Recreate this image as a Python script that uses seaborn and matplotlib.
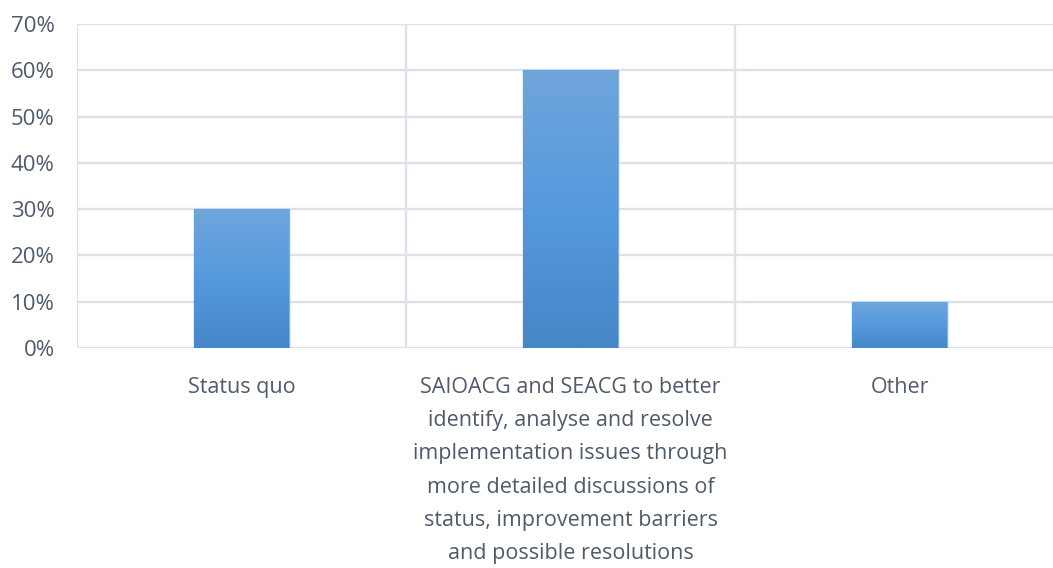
import matplotlib
matplotlib.use("Agg")
import matplotlib.pyplot as plt
import matplotlib.font_manager as fm
from matplotlib.colors import LinearSegmentedColormap
from matplotlib.ticker import FuncFormatter
import numpy as np
import pandas as pd
import seaborn as sns

categories = [
    "Status quo",
    "SAIOACG and SEACG to better\nidentify, analyse and resolve\nimplementation issues through\nmore detailed discussions of\nstatus, improvement barriers\nand possible resolutions",
    "Other",
]
values = [0.30, 0.60, 0.10]
yticks = [0.0, 0.1, 0.2, 0.3, 0.4, 0.5, 0.6, 0.7]

sns.set_theme(style="white")
avail = {f.name for f in fm.fontManager.ttflist}
fams = [f for f in ["Liberation Sans Narrow", "Open Sans", "DejaVu Sans"] if f in avail]
plt.rcParams["font.family"] = fams

text_color = "#4f5a6b"
grid_color = "#dce1ea"

fig = plt.figure(figsize=(10.53, 5.68), dpi=100)
ax = fig.add_axes([77 / 1053, 1 - 348 / 568, (1064 - 77) / 1053, (348 - 24) / 568])

df = pd.DataFrame({"cat": categories, "val": values})
sns.barplot(data=df, x="cat", y="val", ax=ax, width=0.286, color="#5b9bd5",
            edgecolor="#7fb0e0", linewidth=1.0, zorder=3)

ax.set_xlim(-0.5, 2.5)
ax.set_ylim(0, 0.7)
ax.set_yticks(yticks)
ax.yaxis.set_major_formatter(FuncFormatter(lambda v, p: f"{v*100:.0f}%"))

cmap = LinearSegmentedColormap.from_list("g", ["#4587c7", "#559ade", "#6fa5db"])
grad = np.linspace(0, 1, 256).reshape(-1, 1)
for bar in ax.patches:
    x0, y0 = bar.get_x(), bar.get_y()
    w, h = bar.get_width(), bar.get_height()
    im = ax.imshow(grad, cmap=cmap, origin="lower", aspect="auto",
                   extent=[x0, x0 + w, y0, y0 + h], zorder=3.5)
    im.set_clip_path(bar)
ax.set_xlim(-0.5, 2.5)
ax.set_ylim(0, 0.7)

# gridlines
ax.grid(False)
for yv in yticks:
    ax.axhline(yv, color=grid_color, lw=1.7, zorder=1)
for xv in [-0.5, 0.5, 1.5, 2.5]:
    ax.axvline(xv, color=grid_color, lw=1.7, zorder=1)
for s in ax.spines.values():
    s.set_visible(False)

ax.set_xlabel("")
ax.set_ylabel("")
ax.tick_params(axis="y", length=0, pad=16, labelsize=16, labelcolor=text_color)
ax.tick_params(axis="x", length=0, pad=21, labelsize=15.5, labelcolor=text_color)
for lbl in ax.get_xticklabels():
    lbl.set_linespacing(1.76)
    lbl.set_horizontalalignment("center")

fig.savefig("out.png", dpi=100)
